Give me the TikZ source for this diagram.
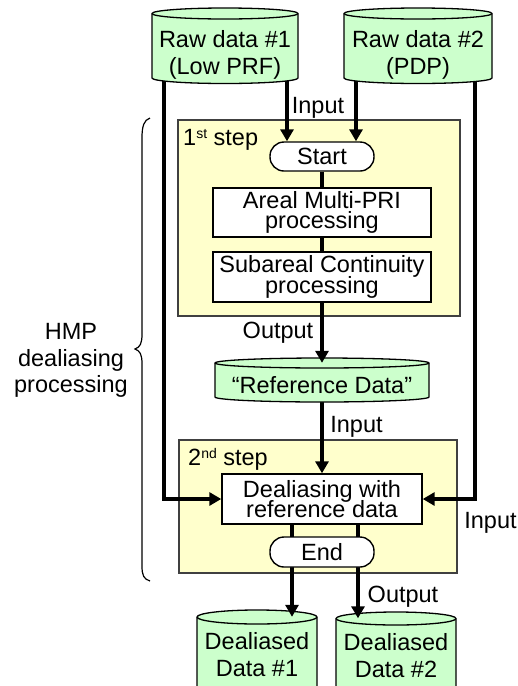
\documentclass[tikz,border=0pt]{standalone}
\usepackage{fontspec}
\setmainfont{Liberation Sans}
\usetikzlibrary{arrows.meta,calc}
\pgfdeclarelayer{bg}\pgfdeclarelayer{back}\pgfdeclarelayer{mid}\pgfdeclarelayer{top}
\pgfsetlayers{bg,back,mid,main,top}
\definecolor{cylgreen}{HTML}{CCFFCC}
\definecolor{stepyellow}{HTML}{FFFFCC}
\definecolor{stepborder}{HTML}{404040}
\newcommand\supsc[1]{\raisebox{7pt}{\fontsize{14}{14}\selectfont #1}}
\newcommand\tightfont{\fontsize{23.5}{20.5}\selectfont\lineskiplimit=-30pt\relax}
\newcommand\normfont{\fontsize{23.5}{27}\selectfont}
\newcommand\hmpfont{\fontsize{23.5}{26.5}\selectfont}
\tikzset{
 txt/.style={font=\normfont, inner sep=0pt, align=center},
 boxtxt/.style={font=\tightfont, align=center},
 procbox/.style={draw=black, line width=1.4pt, fill=white, inner sep=0pt, boxtxt},
 pill/.style={procbox, rounded corners=14pt},
 stepbox/.style={draw=stepborder, line width=1.3pt, fill=stepyellow, inner sep=0pt},
 flow/.style={line width=3.2pt},
 flowarrow/.style={flow, -{Triangle[length=12pt,width=13pt]}},
 cylbody/.style={fill=cylgreen, draw=black, line width=1.3pt, line join=round},
 lbl/.style={font=\normfont, inner sep=0pt, anchor=base},
}
\newcommand\drawcyl[6]{%
 \pgfmathsetmacro\cylrx{(#3-#2)/2}%
 \pgfmathsetmacro\cylcx{(#3+#2)/2}%
 \pgfmathsetmacro\cylcy{-(#4+#5)/2}%
 \pgfmathsetmacro\cylh{#5-#4+2*#6}%
 \pgfmathsetmacro\cylw{#3-#2}%
 \draw[cylbody] (#2,-#4) -- (#2,-#5) arc[start angle=180,end angle=360,x radius=\cylrx,y radius=#6] -- (#3,-#4) arc[start angle=0,end angle=180,x radius=\cylrx,y radius=#6] -- cycle;
 \draw[cylbody, fill=none] (#2,-#4) arc[start angle=180,end angle=360,x radius=\cylrx,y radius=#6];
 \node[inner sep=0pt, minimum width=\cylw pt, minimum height=\cylh pt] (#1) at (\cylcx,\cylcy) {};
}
\begin{document}
\begin{tikzpicture}[x=1pt,y=1pt]
\useasboundingbox (0,0) rectangle (518,-686);
\begin{pgfonlayer}{bg}
\fill[white] (0,0) rectangle (518,-686);
\end{pgfonlayer}

% step boxes
\begin{pgfonlayer}{back}
\node[stepbox, minimum width=282pt, minimum height=196pt] (step1) at (319,-218) {};
\node[stepbox, minimum width=278pt, minimum height=133pt] (step2) at (318,-506.5) {};
\end{pgfonlayer}
\node[lbl, anchor=base west] (s1l) at (183,-145) {1\supsc{st} step};
\node[lbl, anchor=base west] (s2l) at (188,-465) {2\supsc{nd} step};

% cylinders
\drawcyl{raw1}{152}{298}{13.5}{78}{5.5}
\drawcyl{raw2}{344}{492}{13.5}{78}{5.5}
\drawcyl{ref}{215}{429}{363}{397}{5}
\drawcyl{dd1}{197}{317}{617}{692}{7}
\drawcyl{dd2}{336}{456}{618.5}{692}{6.5}
\node[txt] (raw1t) at (225,-54.5) {Raw data \#1\\(Low PRF)};
\node[txt] (raw2t) at (418,-54.5) {Raw data \#2\\(PDP)};
\node[lbl] (reft) at (322,-393) {“Reference Data”};
\node[txt] (dd1t) at (257,-655) {Dealiased\\Data \#1};
\node[txt] (dd2t) at (396,-655.5) {Dealiased\\Data \#2};

% process boxes
\node[pill, minimum width=104pt, minimum height=29pt] (start) at (322,-156.5) {Start};
\node[procbox, minimum width=218pt, minimum height=49pt] (areal) at (322,-212.5) {Areal Multi-PRI\\processing};
\node[procbox, minimum width=218pt, minimum height=50pt] (subareal) at (322,-277) {Subareal Continuity\\processing};
\node[procbox, minimum width=200pt, minimum height=50pt] (dealias) at (322,-499) {Dealiasing with\\reference data};
\node[pill, minimum width=104pt, minimum height=30pt] (end) at (322,-552) {End};

% labels
\node[lbl] (in1) at (318,-113) {Input};
\node[lbl] (out1) at (278,-338) {Output};
\node[lbl] (in2) at (356.5,-432) {Input};
\node[lbl] (in3) at (490.5,-528) {Input};
\node[lbl] (out2) at (403,-602) {Output};
\node[txt, font=\hmpfont] (hmp) at (71,-360.5) {HMP\\dealiasing\\processing};

% brace
\draw[line width=1.2pt] (150,-118) .. controls (144,-120) and (142,-126) .. (142,-138) -- (142,-334) .. controls (142,-344) and (140,-347) .. (135,-349) .. controls (140,-351) and (142,-354) .. (142,-364) -- (142,-566) .. controls (142,-576) and (144,-579) .. (150,-581);

% connectors
\coordinate (o1) at ([xshift=-30pt]end.south);
\coordinate (o2) at ([xshift=36pt]end.south);
\coordinate (d1top) at ([yshift=-7pt]dd1.north);
\coordinate (d2top) at ([yshift=-6.5pt]dd2.north);
\coordinate (reftop) at ([yshift=-5pt]ref.north);
\begin{pgfonlayer}{mid}
\draw[flowarrow] ([xshift=62pt,yshift=6pt]raw1.south) -- ([xshift=62pt]raw1.south |- start.north);
\draw[flowarrow] ([xshift=-62pt,yshift=6pt]raw2.south) -- ([xshift=-62pt]raw2.south |- start.north);
\draw[flowarrow] ([xshift=-61pt,yshift=6pt]raw1.south) |- (dealias.west);
\draw[flowarrow] ([xshift=57pt,yshift=6pt]raw2.south) |- (dealias.east);
\draw[flow] (start.south) -- (areal.north);
\draw[flow] (areal.south) -- (subareal.north);
\draw[flowarrow] ([yshift=6pt]ref.south) -- (dealias.north);
\draw[flow] ([xshift=-30pt]dealias.south) -- (o1);
\draw[flow] ([xshift=36pt]dealias.south) -- (o2);
\end{pgfonlayer}
\begin{pgfonlayer}{top}
\draw[flowarrow] (subareal.south) -- (reftop);
\draw[flowarrow] (o1) -- (o1 |- d1top);
\draw[flowarrow] (o2) -- (o2 |- d2top);
\end{pgfonlayer}
\end{tikzpicture}
\end{document}
